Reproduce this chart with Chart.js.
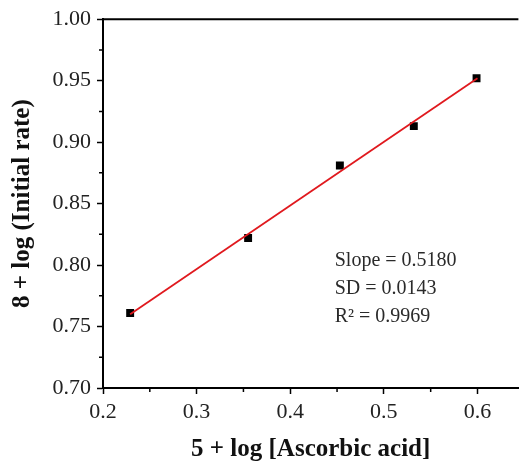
<!DOCTYPE html>
<html>
<head>
<meta charset="utf-8">
<script src="https://cdn.jsdelivr.net/npm/chart.js@4.4.1/dist/chart.umd.min.js"></script>
<style>
  html, body { margin: 0; padding: 0; background: #fff; overflow: hidden; }
  canvas { display: block; }
</style>
</head>
<body>
<canvas id="rateChart" width="524" height="463"></canvas>
<script>
const logAscorbic = [0.229, 0.355, 0.453, 0.532, 0.599];
const logRate = [0.761, 0.822, 0.881, 0.913, 0.952];

// linear fit end points
const fitX = [0.229, 0.600];
const fitY = [0.760, 0.952];

const xTicks = [0.2, 0.3, 0.4, 0.5, 0.6];
const yTicks = [0.70, 0.75, 0.80, 0.85, 0.90, 0.95, 1.00];
const xMinor = [0.25, 0.35, 0.45, 0.55];
const yMinor = [0.725, 0.775, 0.825, 0.875, 0.925, 0.975];

const fitStats = ['Slope = 0.5180', 'SD = 0.0143', 'R\u00b2 = 0.9969'];

const serif = "'Liberation Serif', 'Times New Roman', serif";

// top frame line + minor ticks + the fit statistics text
const extras = {
    id: 'extras',
    afterDraw(chart) {
        const ctx = chart.ctx;
        const area = chart.chartArea;
        const xs = chart.scales.x, ys = chart.scales.y;
        ctx.save();
        ctx.strokeStyle = '#000';
        ctx.lineWidth = 2;
        ctx.beginPath();
        ctx.moveTo(area.left - 1, area.top);
        ctx.lineTo(area.right, area.top);
        ctx.stroke();

        ctx.lineWidth = 1.5;
        ctx.beginPath();
        xMinor.forEach(v => {
            const px = xs.getPixelForValue(v);
            ctx.moveTo(px, area.bottom);
            ctx.lineTo(px, area.bottom + 4);
        });
        yMinor.forEach(v => {
            const py = ys.getPixelForValue(v);
            ctx.moveTo(area.left, py);
            ctx.lineTo(area.left - 4, py);
        });
        ctx.stroke();

        ctx.fillStyle = '#2a2a2a';
        ctx.font = '20px ' + serif;
        ctx.textBaseline = 'middle';
        const tx = xs.getPixelForValue(0.4475);
        const ty = ys.getPixelForValue(0.8035);
        fitStats.forEach((s, i) => ctx.fillText(s, tx, ty + i * 28));
        ctx.restore();
    }
};

new Chart(document.getElementById('rateChart'), {
    type: 'scatter',
    data: {
        datasets: [{
            label: 'fit',
            type: 'line',
            data: fitX.map((x, i) => ({ x: x, y: fitY[i] })),
            borderColor: '#e0191e',
            borderWidth: 1.8,
            pointRadius: 0,
            fill: false,
            order: 0
        }, {
            label: 'data',
            data: logAscorbic.map((x, i) => ({ x: x, y: logRate[i] })),
            pointStyle: 'rect',
            pointRadius: 5.6,
            backgroundColor: '#000',
            borderColor: '#000',
            borderWidth: 0,
            order: 1
        }]
    },
    options: {
        responsive: false,
        animation: false,
        layout: { padding: { top: 19, right: 0, left: 0, bottom: 0 } },
        plugins: { legend: { display: false }, tooltip: { enabled: false } },
        scales: {
            x: {
                type: 'linear',
                min: 0.2,
                max: 0.6437,   // the figure is cropped just past 0.64
                afterBuildTicks: s => { s.ticks = xTicks.map(v => ({ value: v })); },
                afterFit: s => { s.height = 75; },
                border: { color: '#000', width: 2 },
                grid: { drawOnChartArea: false, drawTicks: true, tickLength: 6, tickWidth: 1.5, tickColor: '#000' },
                ticks: {
                    color: '#222',
                    padding: 5,
                    font: { family: serif, size: 22 },
                    callback: v => v.toFixed(1)
                },
                title: {
                    display: true,
                    text: '5 + log [Ascorbic acid]',
                    color: '#111',
                    font: { family: serif, size: 25, weight: 'bold' },
                    padding: { top: 0, bottom: -2 }
                }
            },
            y: {
                type: 'linear',
                min: 0.70,
                max: 1.00,
                afterBuildTicks: s => { s.ticks = yTicks.map(v => ({ value: v })); },
                afterFit: s => { s.width = 103; },
                border: { color: '#000', width: 2 },
                grid: { drawOnChartArea: false, drawTicks: true, tickLength: 6, tickWidth: 1.5, tickColor: '#000' },
                ticks: {
                    color: '#222',
                    padding: 6,
                    font: { family: serif, size: 22 },
                    callback: v => v.toFixed(2)
                },
                title: {
                    display: true,
                    text: '8 + log (Initial rate)',
                    color: '#111',
                    font: { family: serif, size: 25, weight: 'bold' },
                    padding: { top: 8, bottom: 0 }
                }
            }
        }
    },
    plugins: [extras]
});
</script>
</body>
</html>
